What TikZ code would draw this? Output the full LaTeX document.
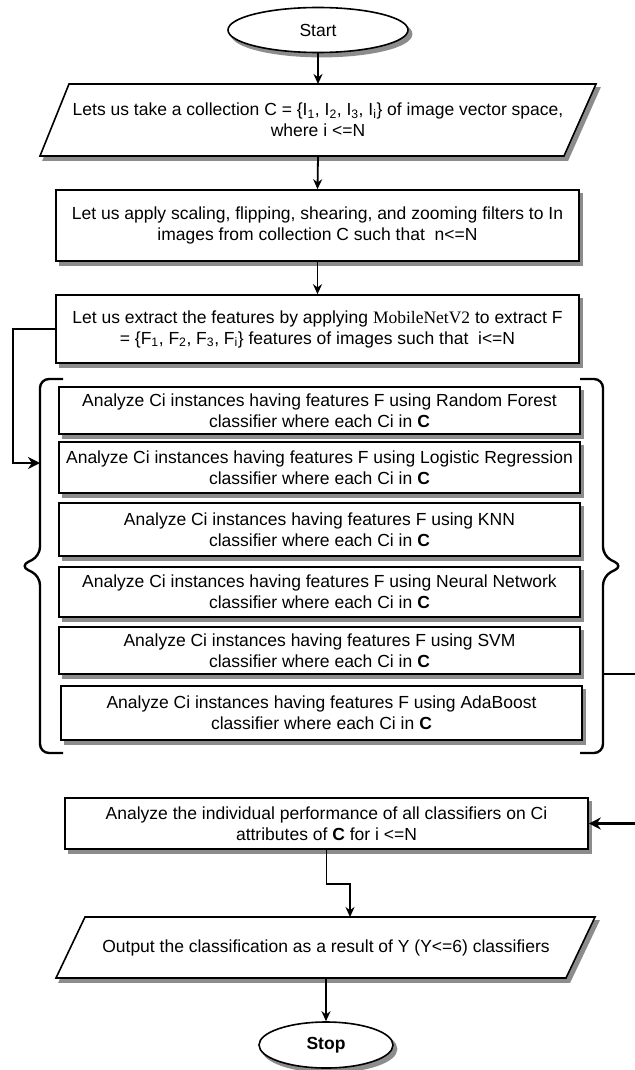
\documentclass[tikz,border=0pt]{standalone}
\usepackage{fontspec}
\setmainfont{Liberation Sans}
\newfontfamily\serifface{Liberation Serif}
\usetikzlibrary{arrows.meta,shapes.geometric}

\begin{document}
\begin{tikzpicture}[x=1pt,y=-1pt,
  every node/.style={font=\fontsize{17.5}{21}\selectfont, align=center, inner sep=0pt},
  castshadow/.style={fill=black!45, draw=black!45, line width=1.8pt},
  procbox/.style={draw, line width=1.6pt, fill=white},
  termnode/.style={ellipse, draw, line width=1.6pt, fill=white},
  iobox/.style={draw, line width=1.6pt, fill=white},
  flow/.style={line width=1.8pt, -{Stealth[length=10pt,width=9pt]}},
  sideflow/.style={line width=2.2pt, -{Stealth[length=12pt,width=12pt]}},
  bracket/.style={line width=2.4pt, rounded corners=9pt}
]
\useasboundingbox (0,0) rectangle (634,1070);
\fill[white] (0,0) rectangle (634,1070);

% drop shadows, offset down and to the right of every shape
\begin{scope}[shift={(3.5,4)}]
  \filldraw[castshadow] (318,30) ellipse [x radius=90, y radius=22.5];
  \filldraw[castshadow] (69,84) -- (596,84) -- (564,156) -- (40,156) -- cycle;
  \filldraw[castshadow] (56,190) rectangle (579,261);
  \filldraw[castshadow] (56,295) rectangle (579,363);
  \filldraw[castshadow] (59,387) rectangle (580,434);
  \filldraw[castshadow] (59,442) rectangle (580,493);
  \filldraw[castshadow] (59,503) rectangle (580,556);
  \filldraw[castshadow] (59,567) rectangle (580,617);
  \filldraw[castshadow] (59,627) rectangle (580,674);
  \filldraw[castshadow] (61,686) rectangle (582,740);
  \filldraw[castshadow] (65,798) rectangle (588,849);
  \filldraw[castshadow] (85,917) -- (595,917) -- (566,978) -- (56,978) -- cycle;
  \filldraw[castshadow] (326,1045) ellipse [x radius=67, y radius=23];
\end{scope}

% start / stop terminals
\node[termnode, minimum width=180, minimum height=45] (start) at (318,30) {Start};

% input: image collection
\draw[iobox] (69,84) -- (596,84) -- (564,156) -- (40,156) -- cycle;
\coordinate (in1top) at (318,84);
\coordinate (in1bot) at (318,156);
\node (in1) at (318,120) {Lets us take a collection C = \{I\textsubscript{1}, I\textsubscript{2}, I\textsubscript{3}, I\textsubscript{i}\} of image vector space,\\ where i <=N};

% preprocessing and feature extraction
\node[procbox, minimum width=523, minimum height=71] (aug) at (317.5,225.5)
  {Let us apply scaling, flipping, shearing, and zooming filters to In\\ images from collection C such that \ n<=N};
\node[procbox, minimum width=523, minimum height=68] (feat) at (317.5,329)
  {Let us extract the features by applying {\serifface MobileNetV2} to extract F\\ = \{F\textsubscript{1}, F\textsubscript{2}, F\textsubscript{3}, F\textsubscript{i}\} features of images such that \ i<=N};

% classifier group
\node[procbox, minimum width=521, minimum height=47] (rf)  at (319.5,410.5)
  {Analyze Ci instances having features F using Random Forest\\ classifier where each Ci in \textbf{C}};
\node[procbox, minimum width=521, minimum height=51] (lr)  at (319.5,467.5)
  {Analyze Ci instances having features F using Logistic Regression\\ classifier where each Ci in \textbf{C}};
\node[procbox, minimum width=521, minimum height=53] (knn) at (319.5,529.5)
  {Analyze Ci instances having features F using KNN\\ classifier where each Ci in \textbf{C}};
\node[procbox, minimum width=521, minimum height=50] (nn)  at (319.5,592)
  {Analyze Ci instances having features F using Neural Network\\ classifier where each Ci in \textbf{C}};
\node[procbox, minimum width=521, minimum height=47] (svm) at (319.5,650.5)
  {Analyze Ci instances having features F using SVM\\ classifier where each Ci in \textbf{C}};
\node[procbox, minimum width=521, minimum height=54] (ada) at (321.5,713)
  {Analyze Ci instances having features F using AdaBoost\\ classifier where each Ci in \textbf{C}};

% braces around the classifiers
\draw[bracket] (63,379) -- (40,379) -- (40,556) -- (20,566) -- (40,576) -- (40,753) -- (63,753);
\draw[bracket] (580,379) -- (603,379) -- (603,556) -- (623,566) -- (603,576) -- (603,753) -- (580,753);
\coordinate (lbrace) at (40,463);
\coordinate (rbrace) at (603,674);

% evaluation and output
\node[procbox, minimum width=523, minimum height=51] (eval) at (326.5,823.5)
  {Analyze the individual performance of all classifiers on Ci\\ attributes of \textbf{C} for i <=N};

\draw[iobox] (85,917) -- (595,917) -- (566,978) -- (56,978) -- cycle;
\coordinate (outtop) at (350,917);
\coordinate (outbot) at (326,978);
\node (out) at (326,948) {Output the classification as a result of Y (Y<=6) classifiers};

\node[termnode, minimum width=134, minimum height=46, font=\fontsize{17.5}{21}\selectfont\bfseries] (stop) at (326,1045) {Stop};

% connectors
\draw[flow] (start.south) -- (in1top);
\draw[flow] (in1bot) -- (aug.north);
\draw[flow] (aug.south) -- (feat.north);
\draw[sideflow] (feat.west) -- ++(-42,0) |- (lbrace);
\draw[sideflow] (rbrace) -- (660,674) |- (eval.east);
\draw[flow] (eval.south) -- ++(0,34) -| (outtop);
\draw[flow] (outbot) -- (stop.north);
\end{tikzpicture}
\end{document}
